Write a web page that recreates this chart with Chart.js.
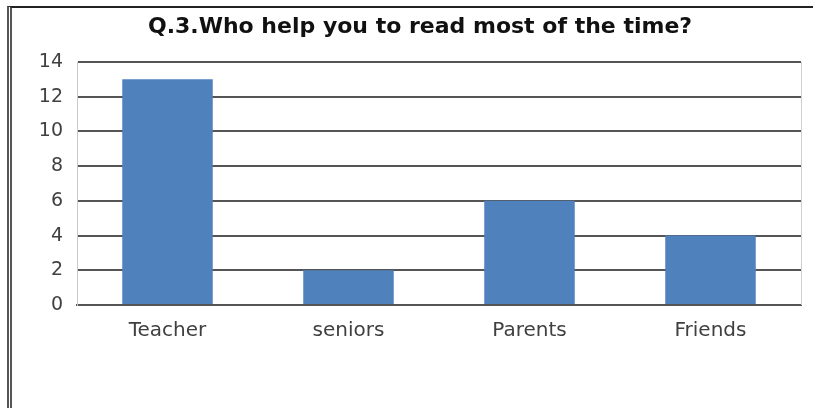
<!DOCTYPE html>
<html>
<head>
<meta charset="utf-8">
<script src="https://cdn.jsdelivr.net/npm/chart.js@4"></script>
<style>
    body { margin: 0; background: #fff; }
    #wrap { position: relative; width: 813px; height: 408px; }
    #frame {
        position: absolute; left: 7px; top: 6px; width: 820px; height: 420px;
        border-top: 2px solid #222; border-left: 5px double #555;
    }
    canvas { position: absolute; left: 0; top: 0; }
</style>
</head>
<body>
<div id="wrap">
    <div id="frame"></div>
    <canvas id="readChart" width="813" height="408"></canvas>
</div>
<script>
const titleText = 'Q.3.Who help you to read most of the time?';
const categories = ['Teacher', 'seniors', 'Parents', 'Friends'];
const helpCounts = [13, 2, 6, 4];
const yTicks = [0, 2, 4, 6, 8, 10, 12, 14];

// light gray line on the right edge of the plot
const plotEdge = {
    id: 'plotEdge',
    afterDraw(chart) {
        const a = chart.chartArea, ctx = chart.ctx;
        ctx.save();
        ctx.strokeStyle = '#d0d0d0';
        ctx.lineWidth = 1;
        ctx.beginPath();
        ctx.moveTo(a.right + 0.5, a.top);
        ctx.lineTo(a.right + 0.5, a.bottom);
        ctx.stroke();
        ctx.restore();
    }
};

var ctx = document.getElementById('readChart').getContext('2d');
new Chart(ctx, {
    type: 'bar',
    data: {
        labels: categories,
        datasets: [{
            label: 'Count',
            data: helpCounts,
            backgroundColor: '#4F81BD',
            borderWidth: 0,
            barPercentage: 0.5,
            categoryPercentage: 1
        }]
    },
    options: {
        responsive: false,
        animation: false,
        layout: { padding: { left: 39, right: 12, top: 0, bottom: 0 } },
        plugins: {
            legend: { display: false },
            tooltip: { enabled: false },
            title: {
                display: true,
                text: titleText,
                color: '#111',
                font: { family: 'DejaVu Sans', size: 22, weight: 'bold' },
                padding: { top: 14, bottom: 21.6 }
            }
        },
        scales: {
            x: {
                grid: { display: false, drawTicks: false },
                border: { color: '#555', width: 2 },
                ticks: { color: '#404040', padding: 14, font: { family: 'DejaVu Sans', size: 20 } },
                afterFit: scale => { scale.height = 103; }
            },
            y: {
                min: 0,
                max: 14,
                afterBuildTicks: scale => { scale.ticks = yTicks.map(v => ({ value: v })); },
                grid: { color: '#555', lineWidth: 2, drawTicks: false },
                border: { color: '#c8c8c8', width: 1 },
                ticks: { color: '#404040', padding: 14, font: { family: 'DejaVu Sans', size: 19 } },
                afterFit: scale => { scale.width = 38; }
            }
        }
    },
    plugins: [plotEdge]
});
</script>
</body>
</html>
